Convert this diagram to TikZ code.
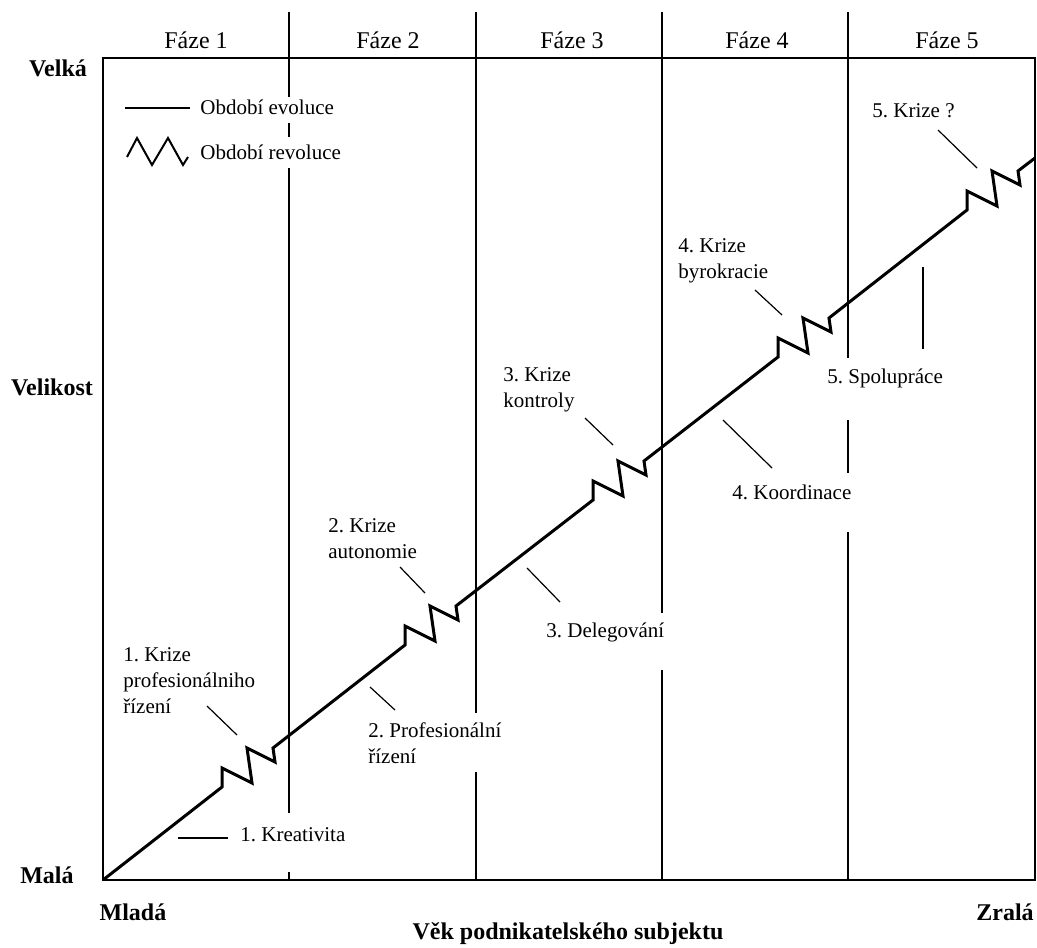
\documentclass[tikz,border=0pt]{standalone}
\usepackage{fontspec}
\setmainfont{Liberation Serif}
\usepackage{tikz}
\frenchspacing

\begin{document}
\begin{tikzpicture}[x=0.5pt, y=-0.5pt, every node/.style={font=\fontsize{10.5}{13}\selectfont, inner sep=0pt},
	lbl/.style={align=left, anchor=west}, ax/.style={font=\bfseries\fontsize{12}{14}\selectfont},
	faze/.style={font=\fontsize{12}{14}\selectfont},
	frame/.style={line width=0.75pt}, ptr/.style={line width=0.6pt}, evol/.style={line width=1.5pt},
	zz/.style={insert path={-- ++(0,-19) -- ++(30,15) -- ++(-5,-35) -- ++(28,14) -- ++(-2,-14)}}]
	\useasboundingbox (0,0) rectangle (1037,947);
	% frame and phases
	\draw[frame] (103,58) rectangle (1035,880);
	\draw[frame] (289,12) -- (289,97) (289,123) -- (289,137) (289,168) -- (289,813) (289,872) -- (289,880);
	\draw[frame] (476,12) -- (476,713) (476,772) -- (476,880);
	\draw[frame] (662,12) -- (662,613) (662,670) -- (662,880);
	\draw[frame] (848,12) -- (848,358) (848,420) -- (848,473) (848,532) -- (848,880);
	\node[faze] (f1) at (196,40) {Fáze 1}; \node[faze] (f2) at (388,40) {Fáze 2}; \node[faze] (f3) at (572,40) {Fáze 3}; \node[faze] (f4) at (757,40) {Fáze 4}; \node[faze] (f5) at (947,40) {Fáze 5};
	% axes
	\node[ax] (velka) at (58,68) {Velká}; \node[ax] (velikost) at (52,387) {Velikost}; \node[ax] (mala) at (47,875) {Malá};
	\node[ax] (mlada) at (133,912) {Mladá}; \node[ax] (zrala) at (1005,912) {Zralá}; \node[ax] (vek) at (568,934) {Věk podnikatelského subjektu};
	% legend
	\coordinate (le1) at (125,108); \coordinate (le2) at (190,108);
	\draw[line width=1pt] (le1) -- (le2);
	\draw[line width=1pt] (127,157) -- (137,138) -- (152,165) -- (168,138) -- (183,165) -- (188,157);
	\node[lbl] (evo) at (200,107) {Období evoluce};
	\node[lbl] (revo) at (200,152) {Období revoluce};
	% growth line
	\draw[evol] (103,880) -- (222,787) [zz] -- (405,645) [zz] -- (593,500) [zz] -- (778,357) [zz] -- (967,210) [zz] -- (1035,158);
	% labels
	\node[lbl] (k1) at (123,681) {1. Krize\\profesionálniho\\řízení};
	\node[lbl] (e1) at (240,835) {1. Kreativita};
	\node[lbl] (k2) at (328,539) {2. Krize\\autonomie};
	\node[lbl] (e2) at (368,743) {2. Profesionální\\řízení};
	\node[lbl] (k3) at (503,390) {3. Krize\\kontroly};
	\node[lbl] (e3) at (546,632) {3. Delegování};
	\node[lbl] (k4) at (678,261) {4. Krize\\byrokracie};
	\node[lbl] (e4) at (732,492) {4. Koordinace};
	\node[lbl] (k5) at (872,111) {5. Krize ?};
	\node[lbl] (e5) at (827,378) {5. Spolupráce};
	% pointers
	\coordinate (k1a) at (207,706); \coordinate (k1b) at (237,735); \coordinate (e1a) at (178,838); \coordinate (e1b) at (228,838);
	\coordinate (k2a) at (400,567); \coordinate (k2b) at (425,593); \coordinate (e2a) at (370,687); \coordinate (e2b) at (395,710);
	\coordinate (k3a) at (585,418); \coordinate (k3b) at (613,445); \coordinate (e3a) at (527,568); \coordinate (e3b) at (560,602);
	\coordinate (k4a) at (755,290); \coordinate (k4b) at (782,315); \coordinate (e4a) at (723,420); \coordinate (e4b) at (772,468);
	\coordinate (k5a) at (938,130); \coordinate (k5b) at (977,168); \coordinate (e5a) at (923,267); \coordinate (e5b) at (923,349);
	\foreach \p in {k1,e1,k2,e2,k3,e3,k4,e4,k5,e5} \draw[ptr] (\p a) -- (\p b);
\end{tikzpicture}
\end{document}
